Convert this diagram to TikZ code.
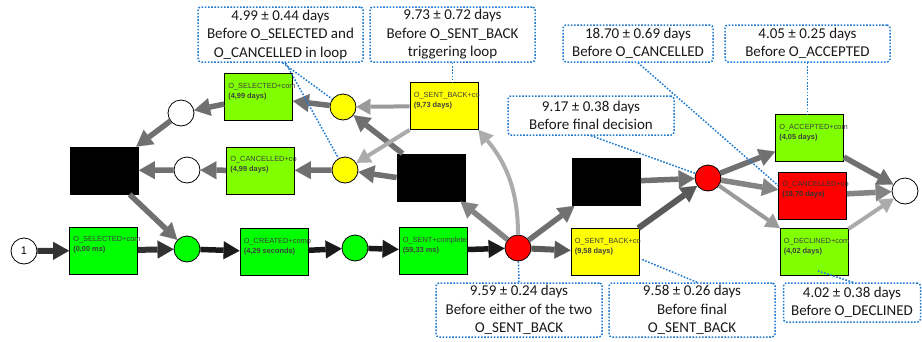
\documentclass[tikz,border=0pt]{standalone}
\usepackage{fontspec}
\setmainfont{Carlito}
\newfontfamily\lblfont{Liberation Sans}
\usetikzlibrary{arrows.meta,calc}
\definecolor{limeg}{HTML}{80FF00}
\definecolor{brgreen}{HTML}{00FF00}
\definecolor{ylw}{HTML}{FFFF00}
\definecolor{rd}{HTML}{FF0000}
\definecolor{dotblue}{HTML}{1F7BD0}
\definecolor{cA}{HTML}{1A1A1A}
\definecolor{cB}{HTML}{333333}
\definecolor{cC}{HTML}{5A5A5A}
\definecolor{cD}{HTML}{707070}
\definecolor{cE}{HTML}{848484}
\definecolor{cF}{HTML}{9A9A9A}
\definecolor{cG}{HTML}{ABABAB}
\begin{document}
\begin{tikzpicture}[x=1pt,y=-1pt,
  box/.style={draw=black, line width=0.8pt, minimum width=68pt, minimum height=47pt, inner sep=0pt},
  blk/.style={box, fill=black},
  place/.style={circle, draw=black, line width=0.8pt, minimum size=26pt, inner sep=0pt},
  lbltxt/.style={anchor=north west, inner sep=0pt, font=\lblfont\fontsize{7.4}{10}\selectfont, align=left, text=black!75},
  callout/.style={draw=dotblue, dash pattern=on 1.6pt off 1.6pt, line width=1.5pt, rounded corners=3pt, align=center, font=\fontsize{15}{18.5}\selectfont, inner sep=0pt, text=black!90},
  dotc/.style={draw=dotblue, dash pattern=on 1.6pt off 1.6pt, line width=1.5pt},
  flow/.style={-{Triangle[length=16pt,width=18pt,line width=0.1pt]}, line width=5.5pt},
  thin flow/.style={-{Triangle[length=14pt,width=16pt,line width=0.1pt]}, line width=4pt}
]
\useasboundingbox (0,0) rectangle (922,341);

% transitions
\node[box, fill=brgreen] (sel0) at (103.5,250.5) {};
\node[lbltxt] (sel0l) at ($(sel0.north west)+(4,10)$) {O\_SELECTED+com\\\textbf{(0,00 ms)}};
\node[box, fill=brgreen] (cre) at (274,252) {};
\node[lbltxt] (crel) at ($(cre.north west)+(4,10)$) {O\_CREATED+comp\\\textbf{(4,29 seconds)}};
\node[box, fill=brgreen] (sent) at (433,250.5) {};
\node[lbltxt] (sentl) at ($(sent.north west)+(4,10)$) {O\_SENT+complete\\\textbf{(59,33 ms)}};
\node[box, fill=ylw] (sb2) at (605,252) {};
\node[lbltxt] (sb2l) at ($(sb2.north west)+(4,10)$) {O\_SENT\_BACK+co\\\textbf{(9,58 days)}};
\node[box, fill=ylw] (sb1) at (444,106) {};
\node[lbltxt] (sb1l) at ($(sb1.north west)+(4,10)$) {O\_SENT\_BACK+co\\\textbf{(9,73 days)}};
\node[box, fill=limeg] (sel1) at (258.5,97) {};
\node[lbltxt] (sel1l) at ($(sel1.north west)+(4,10)$) {O\_SELECTED+com\\\textbf{(4,99 days)}};
\node[box, fill=limeg] (can1) at (260.5,170.5) {};
\node[lbltxt] (can1l) at ($(can1.north west)+(4,10)$) {O\_CANCELLED+co\\\textbf{(4,99 days)}};
\node[box, fill=limeg] (acc) at (809.5,138) {};
\node[lbltxt] (accl) at ($(acc.north west)+(4,10)$) {O\_ACCEPTED+com\\\textbf{(4,05 days)}};
\node[box, fill=rd] (canR) at (812.5,195.5) {};
\node[lbltxt, text=black!80] (canRl) at ($(canR.north west)+(4,10)$) {O\_CANCELLED+co\\\textbf{(18,70 days)}};
\node[box, fill=limeg] (dec) at (814,252) {};
\node[lbltxt] (decl) at ($(dec.north west)+(4,10)$) {O\_DECLINED+com\\\textbf{(4,02 days)}};
\node[blk] (blkL) at (104.5,170.5) {};
\node[blk] (blkM) at (431,177.5) {};
\node[blk] (blkR) at (606.5,182) {};

% places
\node[place, fill=white, font=\lblfont\fontsize{11}{11}\selectfont] (start) at (24,251) {1};
\node[place, fill=brgreen] (g1) at (187,249) {};
\node[place, fill=brgreen] (g2) at (355,248) {};
\node[place, fill=rd] (r1) at (518,248) {};
\node[place, fill=ylw] (y1) at (343,107) {};
\node[place, fill=ylw] (y2) at (345,170) {};
\node[place, fill=white] (w1) at (181,113) {};
\node[place, fill=white] (w2) at (187,170) {};
\node[place, fill=rd] (r2) at (708,178) {};
\node[place, fill=white] (endp) at (905,191) {};

% arcs: main path
\draw[flow, cB, line width=6pt] (start) -- (sel0);
\draw[flow, cB, line width=6pt] (sel0) -- (g1);
\draw[flow, cA] (g1) -- (cre);
\draw[flow, cA] (cre) -- (g2);
\draw[flow, cA] (g2) -- (sent);
\draw[flow, cA] (sent) -- (r1);
\draw[flow, cC, line width=6pt] (r1) -- (sb2);
\draw[flow, cE] (r1) -- (blkM);
\draw[flow, cD] (r1) -- (blkR);
\draw[thin flow, cG] (r1.north) to[out=90, in=-50] (sb1.south east);
% loop
\draw[flow, cD] ([xshift=6pt]blkM.north west) -- (y1);
\draw[flow, cD] (blkM.west) -- (y2);
\draw[thin flow, cF] (sb1) -- (y1);
\draw[thin flow, cG] (sb1.south west) -- (y2);
\draw[flow, cD] (y1) -- (sel1);
\draw[flow, cD] (y2) -- (can1);
\draw[flow, cD] (sel1) -- (w1);
\draw[flow, cD] (can1) -- (w2);
\draw[flow, cD] (w1) -- (blkL);
\draw[flow, cD] (w2) -- (blkL);
\draw[flow, cD] (blkL) -- (g1);
% final decision
\draw[flow, cD] (blkR) -- (r2);
\draw[flow, cC, line width=6pt] (sb2) -- (r2);
\draw[flow, cD] (r2) -- (acc);
\draw[flow, cE] (r2) -- (canR);
\draw[thin flow, cF] (r2) -- (dec);
\draw[flow, cD] (acc) -- (endp);
\draw[flow, cE] (canR) -- (endp);
\draw[thin flow, cG] (dec) -- (endp);

% callouts
\node[callout, minimum width=165pt, minimum height=55pt] (c1) at (280.5,34.5) {4.99 ± 0.44 days\\Before O\_SELECTED and\\O\_CANCELLED in loop};
\node[callout, minimum width=165pt, minimum height=55pt] (c2) at (452.5,34.5) {9.73 ± 0.72 days\\Before O\_SENT\_BACK\\triggering loop};
\node[callout, minimum width=150pt, minimum height=37pt] (c3) at (638,43.5) {18.70 ± 0.69 days\\Before O\_CANCELLED};
\node[callout, minimum width=165pt, minimum height=37pt] (c4) at (807.5,43.5) {4.05 ± 0.25 days\\Before O\_ACCEPTED};
\node[callout, minimum width=166pt, minimum height=39pt] (c5) at (591,115.5) {9.17 ± 0.38 days\\Before final decision};
\node[callout, minimum width=166pt, minimum height=54pt] (c6) at (519,310) {9.59 ± 0.24 days\\Before either of the two\\O\_SENT\_BACK};
\node[callout, minimum width=166pt, minimum height=54pt] (c7) at (692,310) {9.58 ± 0.26 days\\Before final\\O\_SENT\_BACK};
\node[callout, minimum width=137pt, minimum height=39pt] (c8) at (852,302.5) {4.02 ± 0.38 days\\Before O\_DECLINED};

\coordinate (decp) at (818,271);
\coordinate (sb2p) at (641,259);
\draw[dotc] ([xshift=2pt]c1.south) -- (y1);
\draw[dotc] ([xshift=5pt]c1.south) -- (y2);
\draw[dotc] (c2.south) -- (c2.south |- sb1.north);
\draw[dotc] (c3.south) -- ([yshift=10pt]canR.west);
\draw[dotc] (c4.south) -- (c4.south |- acc.north);
\draw[dotc] (c5.south) -- (r2);
\draw[dotc] (c6.north) -- (r1);
\draw[dotc] ([xshift=5pt]c7.north) -- (sb2p);
\draw[dotc] ([xshift=1pt]c8.north) -- (decp);
\end{tikzpicture}
\end{document}
